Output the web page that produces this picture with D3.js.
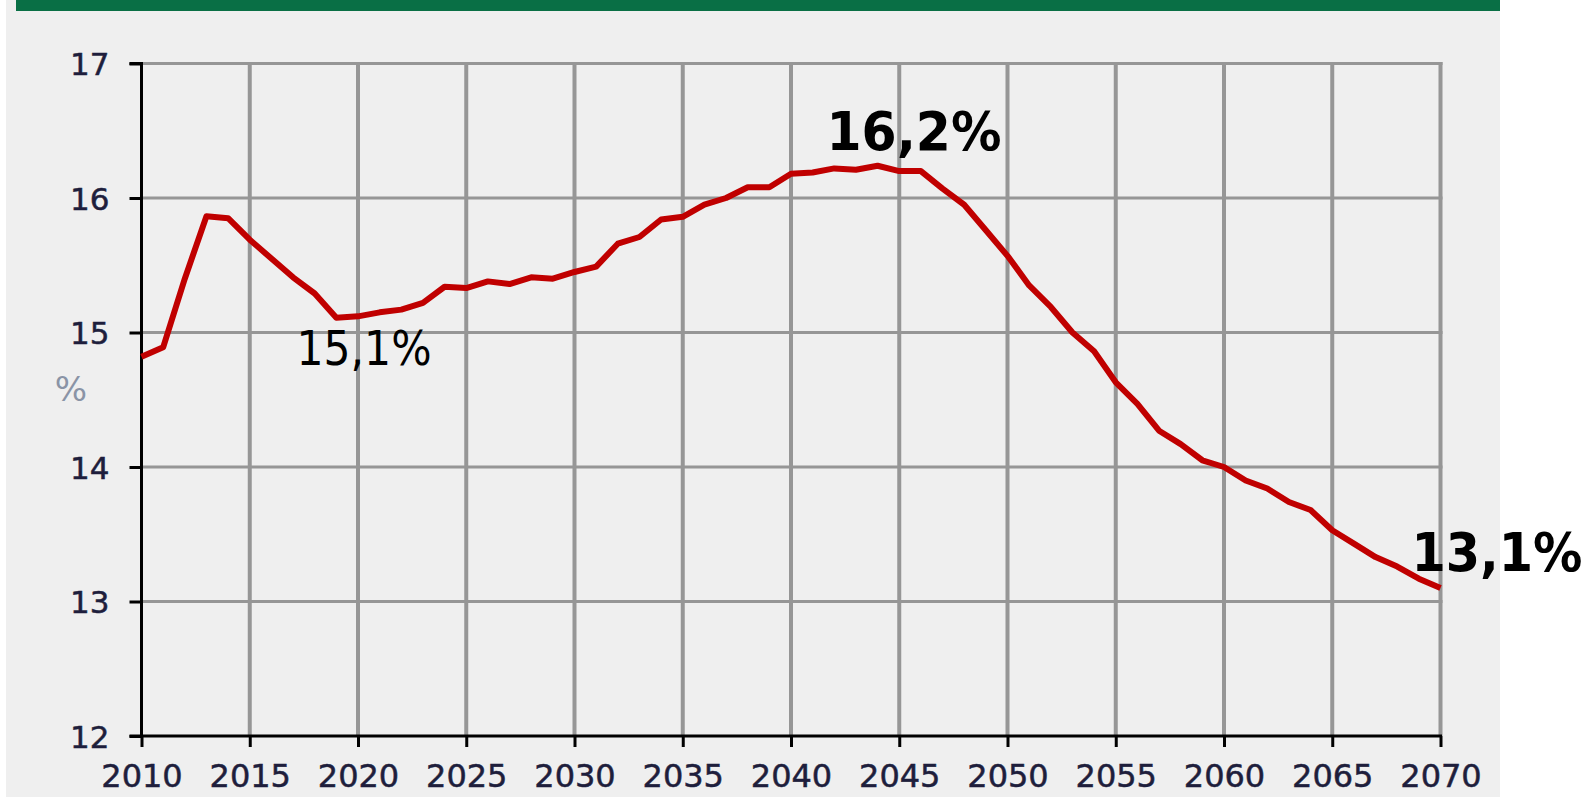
<!DOCTYPE html>
<html>
<head>
<meta charset="utf-8">
<script src="https://cdn.jsdelivr.net/npm/d3@7/dist/d3.min.js"></script>
<style>
  html, body { margin: 0; padding: 0; background: #ffffff; }
  svg { display: block; }
</style>
</head>
<body>
<svg id="chart" width="1590" height="797"></svg>
<script>
// ---- data ----
const years = d3.range(2010, 2071);
const values = [
  14.82, 14.89, 15.40, 15.865, 15.85, 15.69, 15.55, 15.41, 15.29, 15.11,
  15.12, 15.15, 15.17, 15.22, 15.34, 15.33, 15.38, 15.36, 15.41, 15.40,
  15.45, 15.49, 15.66, 15.71, 15.84, 15.86, 15.95, 16.00, 16.08, 16.08,
  16.18, 16.19, 16.22, 16.21, 16.24, 16.20, 16.20, 16.07, 15.95, 15.76,
  15.57, 15.35, 15.19, 15.00, 14.86, 14.63, 14.47, 14.27, 14.17, 14.05,
  14.00, 13.90, 13.84, 13.74, 13.68, 13.53, 13.43, 13.33, 13.26, 13.17,
  13.10
];
const xTicks = [2010, 2015, 2020, 2025, 2030, 2035, 2040, 2045, 2050, 2055, 2060, 2065, 2070];
const yTicks = [12, 13, 14, 15, 16, 17];
const yAxisLabel = "%";
const annotations = [
  { text: "15,1%", year: 2019, value: 15.11, bold: false },
  { text: "16,2%", year: 2044, value: 16.24, bold: true },
  { text: "13,1%", year: 2070, value: 13.10, bold: true }
];

// ---- layout ----
const svg = d3.select("#chart");
svg.append("rect").attr("x", 6).attr("y", 0).attr("width", 1494).attr("height", 797).attr("fill", "#efefef");
svg.append("rect").attr("x", 16).attr("y", 0).attr("width", 1484).attr("height", 11).attr("fill", "#096f45");

const x = d3.scaleLinear().domain([2010, 2070]).range([141.5, 1440.5]);
const y = d3.scaleLinear().domain([12, 17]).range([736, 63.5]);

const gridColor = "#969696";
// horizontal gridlines
svg.append("g").selectAll("line").data(yTicks.filter(d => d !== 12)).join("line")
  .attr("x1", x(2010)).attr("x2", x(2070) + 2)
  .attr("y1", d => y(d)).attr("y2", d => y(d))
  .attr("stroke", gridColor).attr("stroke-width", 3);
// vertical gridlines
svg.append("g").selectAll("line").data(xTicks.filter(d => d !== 2010)).join("line")
  .attr("x1", d => x(d)).attr("x2", d => x(d))
  .attr("y1", y(17) - 1.5).attr("y2", y(12))
  .attr("stroke", gridColor).attr("stroke-width", 4);

const tickFont = "'DejaVu Sans', Verdana, sans-serif";
// y axis
const yAxis = d3.axisLeft(y).tickValues(yTicks).tickSize(12).tickPadding(20).tickFormat(d3.format("d"));
const gy = svg.append("g").attr("transform", `translate(${x(2010)},0)`).call(yAxis);
gy.select(".domain").attr("stroke", "#000").attr("stroke-width", 3).attr("d", `M-12,${y(17)}H0V${y(12)}`);
gy.selectAll(".tick line").attr("stroke", "#000").attr("stroke-width", 3);
gy.selectAll(".tick text")
  .attr("fill", "#1e1e3c").attr("stroke", "#1e1e3c").attr("stroke-width", 0.5)
  .attr("font-family", tickFont).attr("font-size", 31)
  .attr("dy", "0.36em");

// x axis
const xAxis = d3.axisBottom(x).tickValues(xTicks).tickSize(11).tickPadding(17).tickFormat(d3.format("d"));
const gx = svg.append("g").attr("transform", `translate(0,${y(12)})`).call(xAxis);
gx.select(".domain").attr("stroke", "#000").attr("stroke-width", 3).attr("d", `M${x(2010) - 12},0H${x(2070) + 1.5}`);
gx.selectAll(".tick line").attr("stroke", "#000").attr("stroke-width", 3);
gx.selectAll(".tick text")
  .attr("fill", "#1e1e3c").attr("stroke", "#1e1e3c").attr("stroke-width", 0.5)
  .attr("font-family", tickFont).attr("font-size", 32)
  .attr("dy", "0.71em");

// y axis unit label
svg.append("text").attr("x", 71).attr("y", 401).attr("text-anchor", "middle")
  .attr("font-family", tickFont).attr("font-size", 34)
  .attr("fill", "#8a94a6").text(yAxisLabel);

// line
const line = d3.line().x((d, i) => x(years[i])).y(d => y(d));
svg.append("path").datum(values).attr("d", line)
  .attr("fill", "none").attr("stroke", "#c00000").attr("stroke-width", 6)
  .attr("stroke-linejoin", "round");

// annotations
const annStyle = [
  { dx: 27.7, dy: 47, size: 48, len: 135 },
  { dx: 36.4, dy: -15.7, size: 54, len: 175 },
  { dx: 56.5, dy: -16.6, size: 54, len: 171 }
];
svg.append("g").selectAll("text").data(annotations).join("text")
  .attr("x", (d, i) => x(d.year) + annStyle[i].dx - annStyle[i].len / 2)
  .attr("y", (d, i) => y(d.value) + annStyle[i].dy)
  .attr("font-family", "'DejaVu Sans Condensed', 'DejaVu Sans', sans-serif")
  .attr("font-stretch", "condensed")
  .attr("font-weight", d => d.bold ? "bold" : "normal")
  .attr("font-size", (d, i) => annStyle[i].size)
  .attr("textLength", (d, i) => annStyle[i].len)
  .attr("lengthAdjust", "spacingAndGlyphs")
  .attr("fill", "#000")
  .text(d => d.text);
</script>
</body>
</html>
